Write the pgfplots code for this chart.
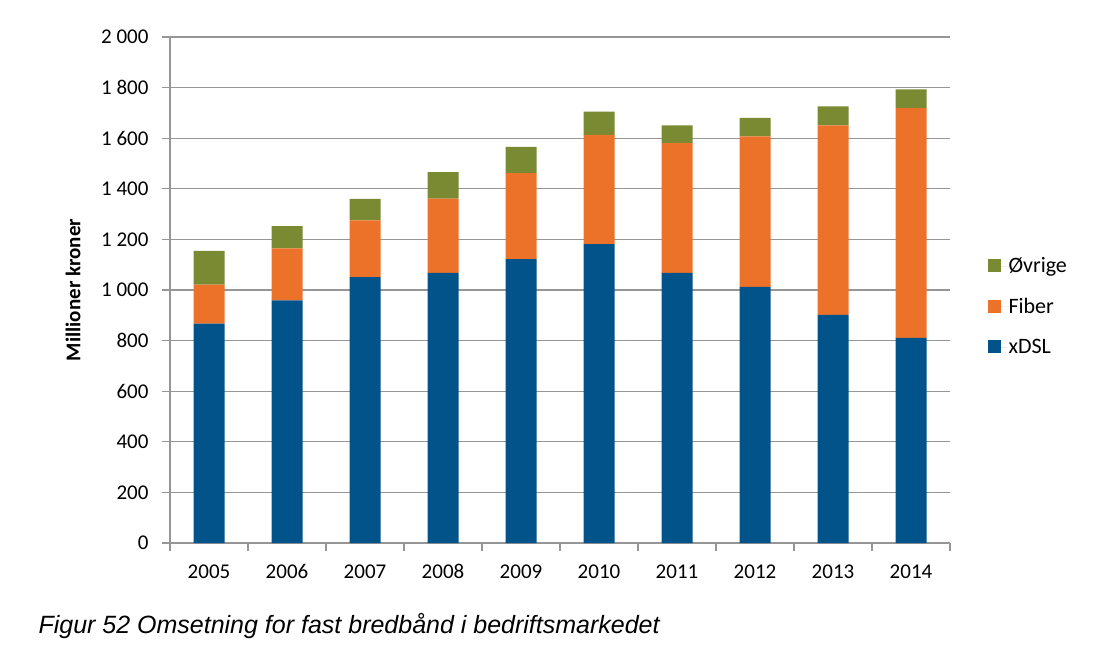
\documentclass[border=0pt]{standalone}
\usepackage{pgfplots}
\pgfplotsset{compat=1.18}
\usepackage{fontspec}
\setmainfont{Carlito}
\newfontfamily\capfont{Liberation Sans}
\definecolor{cblue}{RGB}{1,83,138}
\definecolor{corange}{RGB}{236,114,41}
\definecolor{cgreen}{RGB}{121,138,50}
\definecolor{cgrid}{RGB}{150,150,150}
\begin{document}
\begin{tikzpicture}
\path[use as bounding box] (0pt,0pt) rectangle (1108pt,649pt);
\begin{axis}[
  at={(170pt,106pt)}, anchor=south west,
  scale only axis, width=780pt, height=506pt,
  ybar stacked, bar width=31pt,
  xmin=-0.5, xmax=9.5, ymin=0, ymax=2000,
  axis x line*=bottom, axis y line*=left,
  axis line style={cgrid, line width=1.3pt},
  tick align=outside, major tick length=8pt,
  tick style={cgrid, line width=1.3pt},
  xtick={-0.5,0.5,...,9.5},
  xticklabels={},
  extra x ticks={0,...,9},
  extra x tick labels={2005,2006,2007,2008,2009,2010,2011,2012,2013,2014},
  extra x tick style={major tick length=0pt, tick label style={font=\fontsize{21}{25}\selectfont, text height=13pt, text depth=0pt, anchor=north, yshift=-19pt}},
  ytick={0,200,...,2000},
  yticklabels={0,200,400,600,800,{1 000},{1 200},{1 400},{1 600},{1 800},{2 000}},
  y tick label style={font=\fontsize{21}{25}\selectfont, xshift=-10pt},
  ymajorgrids, grid style={cgrid, line width=1.3pt},
  every axis y label/.style={at={(axis description cs:0,0.5)}, xshift=-97pt, rotate=90, anchor=center, font=\bfseries\fontsize{21}{25}\selectfont},
  ylabel={Millioner kroner},
  reverse legend,
  legend style={at={(1.044,0.572)}, anchor=north west, draw=none, fill=none,
    font=\fontsize{22}{26}\selectfont, row sep=20pt, cells={anchor=west}},
  legend image code/.code={\fill[#1] (0pt,-6pt) rectangle (13pt,7pt); \path (0pt,0pt) -- (19pt,0pt);},
]
\addplot[fill=cblue, draw=none] coordinates {(0,867) (1,959) (2,1051) (3,1068) (4,1122) (5,1181) (6,1068) (7,1012) (8,902) (9,811)};
\addplot[fill=corange, draw=none] coordinates {(0,154) (1,206) (2,224) (3,293) (4,340) (5,432) (6,513) (7,595) (8,749) (9,908)};
\addplot[fill=cgreen, draw=none] coordinates {(0,134) (1,87) (2,85) (3,105) (4,104) (5,92) (6,70) (7,73) (8,75) (9,74)};
\legend{xDSL,Fiber,Øvrige}
\end{axis}
\node[anchor=base west, font=\capfont\itshape\fontsize{25}{29}\selectfont] at (35pt,16pt) {Figur 52 Omsetning for fast bredbånd i bedriftsmarkedet};
\end{tikzpicture}
\end{document}
